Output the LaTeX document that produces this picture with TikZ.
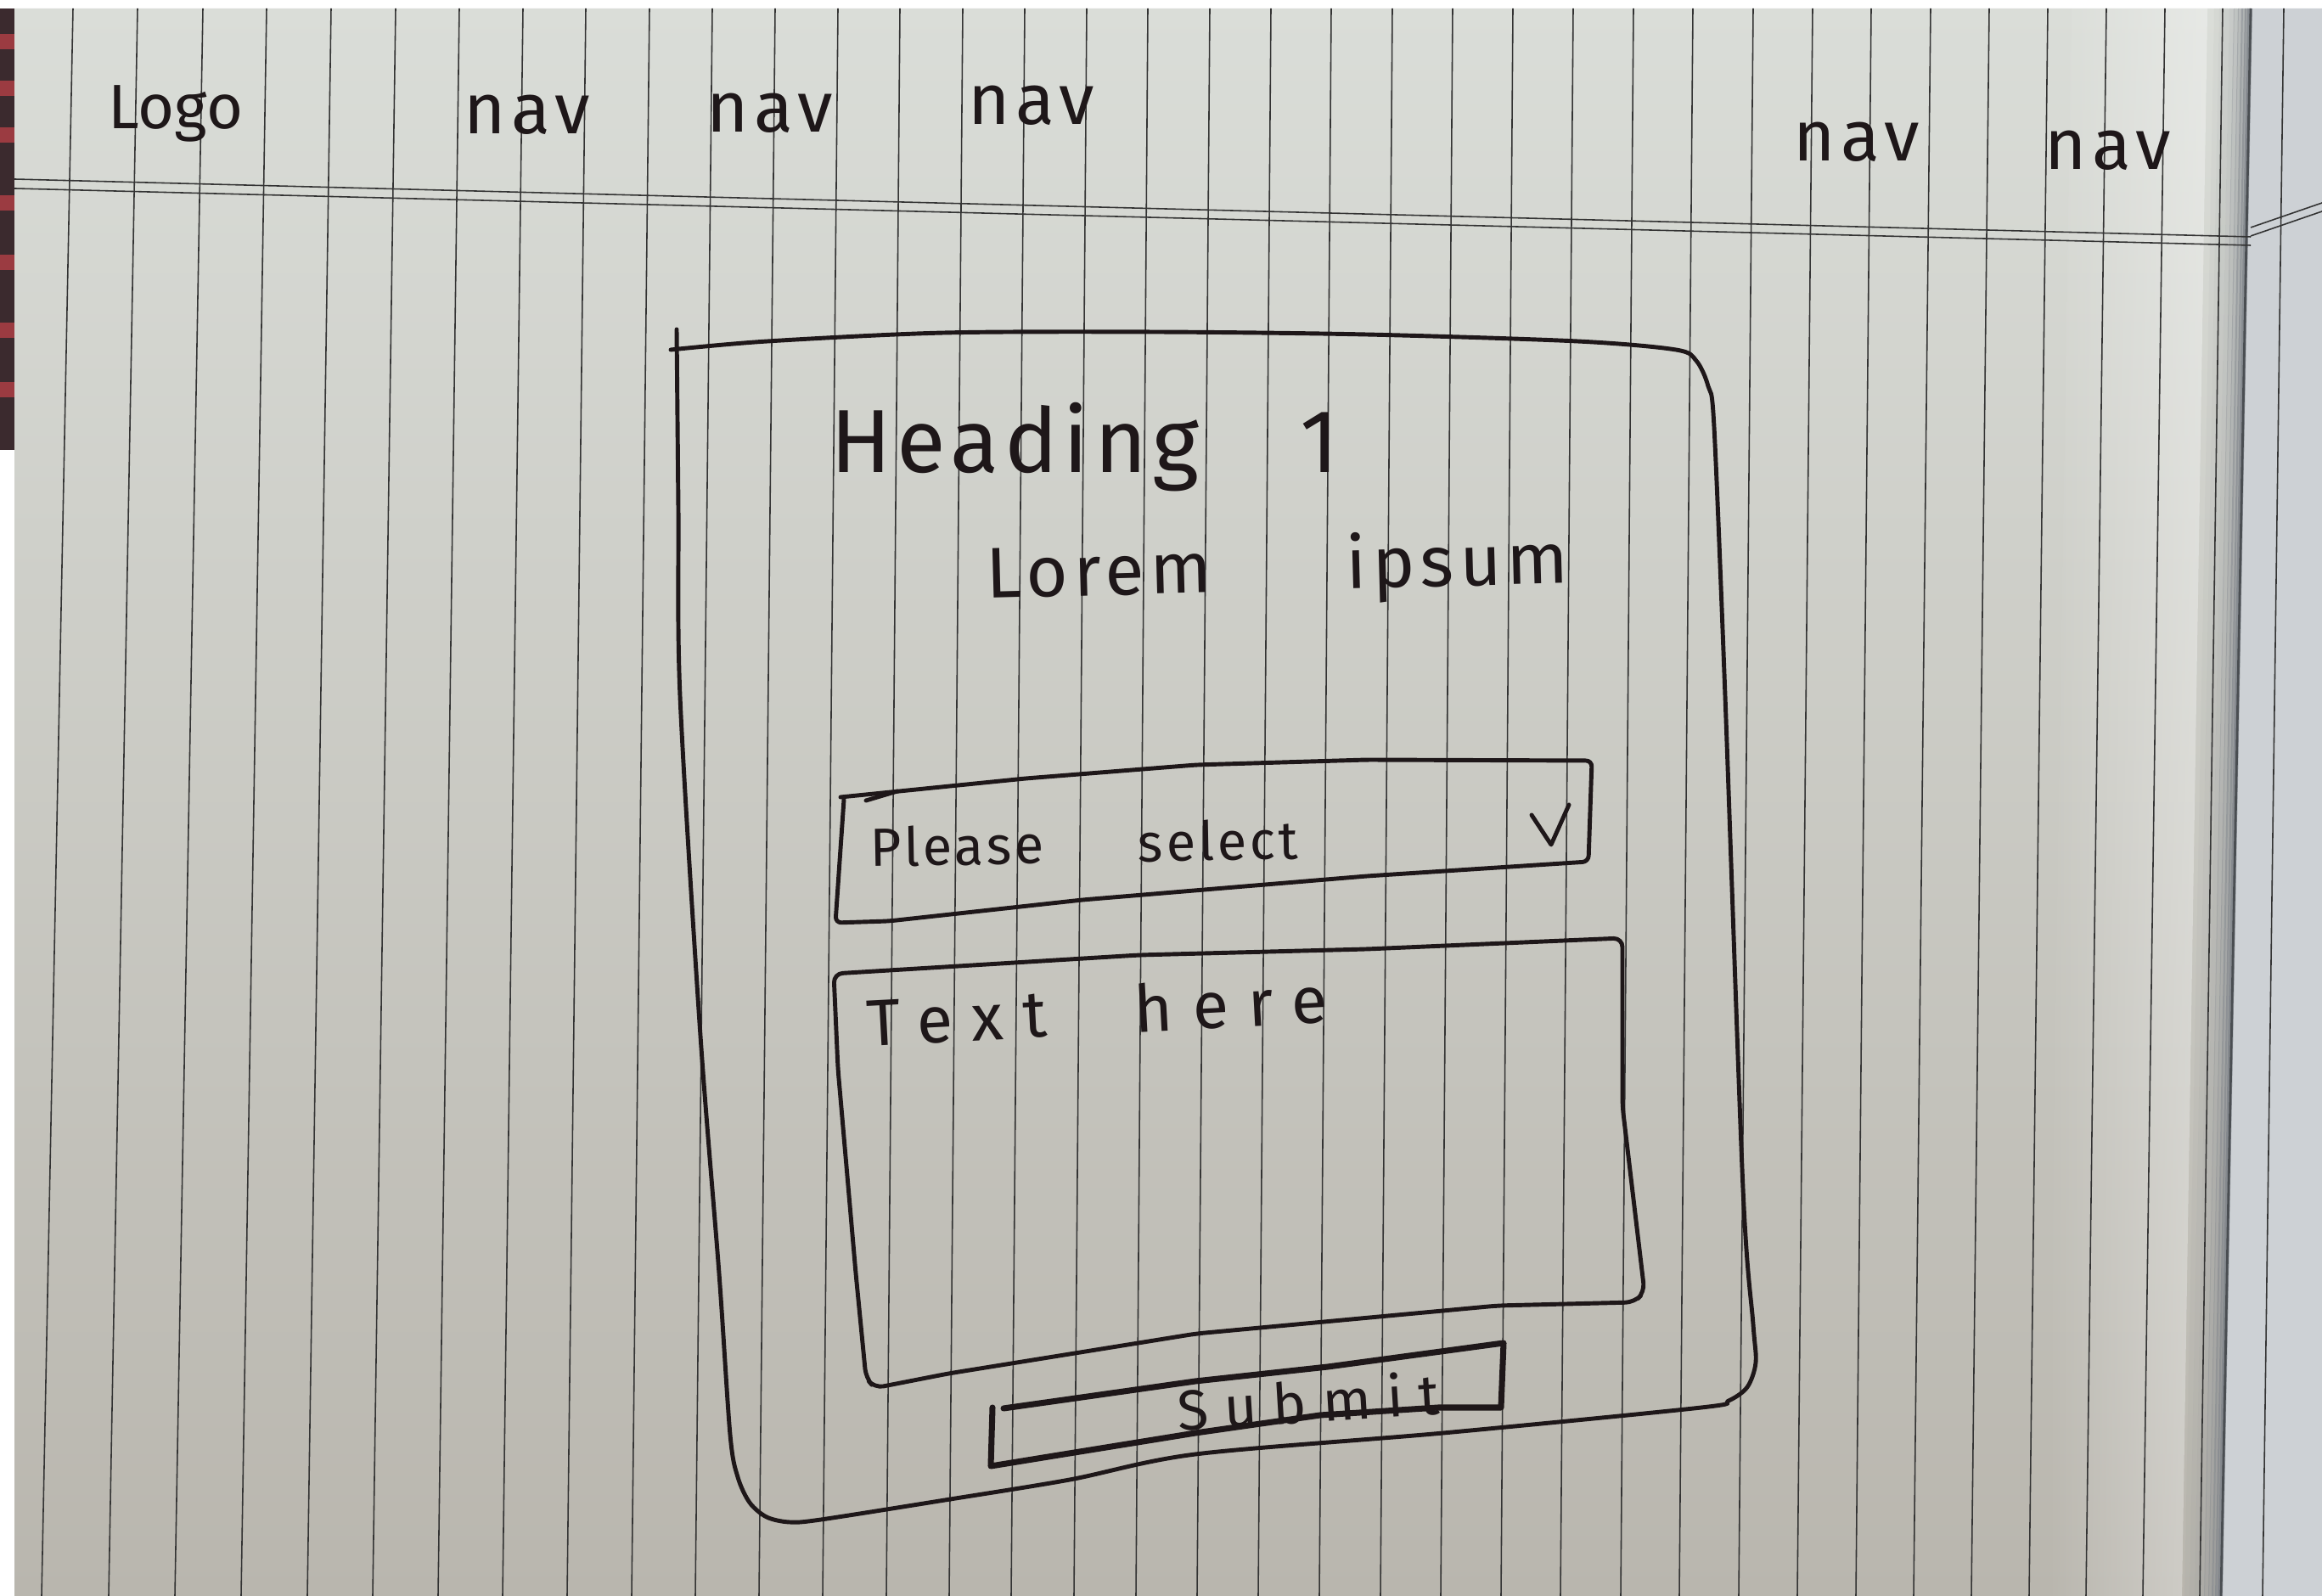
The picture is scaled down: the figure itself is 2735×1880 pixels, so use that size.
\documentclass[tikz,border=0pt]{standalone}
\usepackage{fontspec}
\setmainfont{Fira Sans}
\newfontfamily\handfont{Fira Sans}
\usetikzlibrary{fadings}

\definecolor{ink}{HTML}{1E1719}
\definecolor{rulec}{HTML}{333333}
\definecolor{papertop}{HTML}{DADDD8}
\definecolor{paperbot}{HTML}{B9B6AE}
\definecolor{nextpage}{HTML}{CDD1D5}
\definecolor{edgeshade}{HTML}{7C8188}
\definecolor{spine}{HTML}{3B2A2E}
\definecolor{spinered}{HTML}{9B3B41}

\tikzfading[name=fadeedge, left color=transparent!100, right color=transparent!0]

\tikzset{
  pen/.style={draw=ink, line width=1.4pt, line cap=round, line join=round},
  thickpen/.style={pen, line width=2pt},
  ruleline/.style={draw=rulec, line width=0.45pt},
  hand/.style 2 args={text=ink, inner sep=0pt,
    font=\handfont\addfontfeature{LetterSpace=#2}\fontsize{#1}{#1}\selectfont},
}

\begin{document}
\begin{tikzpicture}[x=0.01cm, y=-0.01cm]
    \useasboundingbox (0,0) rectangle (2735,1880);

    % Paper and the page beside it
    \fill[white] (0,0) rectangle (2735,1880);
    \shade[top color=papertop, bottom color=paperbot]
        (17,10) -- (2651,10) -- (2616,1880) -- (17,1880) -- cycle;
    \fill[nextpage] (2651,10) -- (2735,10) -- (2735,1880) -- (2616,1880) -- cycle;
    \fill[white, opacity=0.35, path fading=fadeedge]
        (2440,10) -- (2600,10) -- (2570,1880) -- (2410,1880) -- cycle;
    \foreach \d/\o in {40/0.05,34/0.1,28/0.15,22/0.2,17/0.28,12/0.36,8/0.45,4/0.55,1/0.7}
        \draw[edgeshade, line width=0.06cm, opacity=\o] (2651-\d,10) -- (2616-\d,1880);
    \draw[edgeshade!60!black, line width=0.8pt] (2651,10) -- (2616,1880);

    % Book spine on the left
    \fill[spine] (0,10) rectangle (17,530);
    \foreach \y in {40,95,150,230,300,380,450}
        \fill[spinered] (0,\y) rectangle (17,\y+18);

    % Ruled lines (top x / bottom x)
    \foreach \xt/\xb in {86/49,162/128,239/206,314/284,390/362,466/439,541/516,616/592,
        690/668,765/744,839/819,913/894,987/969,1060/1044,1134/1118,1207/1191,
        1280/1265,1352/1338,1425/1410,1497/1482,1568/1554,1640/1626,1711/1697,
        1782/1768,1853/1838,1924/1909,1994/1978,2065/2048,2135/2117,2204/2186,
        2274/2254,2343/2322,2412/2390,2481/2457,2550/2524,2618/2591,2690/2665}
        \draw[ruleline] (\xt,10) -- (\xb,1880);
    \draw[ruleline] (17,211) -- (2651,279);
    \draw[ruleline] (17,222) -- (2651,289);
    \draw[ruleline] (2651,268) -- (2735,239);
    \draw[ruleline] (2651,278) -- (2735,249);

    % Header row
    \node[hand={21}{0}] (logo) at (207,134) {Logo};
    \node[hand={24}{8}] (nav1) at (621,135) {nav};
    \node[hand={24}{8}] (nav2) at (907,133) {nav};
    \node[hand={24}{8}] (nav3) at (1215,124) {nav};
    \node[hand={24}{8}] (nav4) at (2187,167) {nav};
    \node[hand={24}{8}] (nav5) at (2483,177) {nav};

    % Card
    \draw[pen] plot[smooth, tension=0.5] coordinates {
        (790,412) (904,402) (1112,392) (1360,391) (1609,394) (1858,402)
        (1974,412) (1998,425) (2012,455) (2019,503) (2032,820) (2053,1400)
        (2065,1560) (2068,1605) (2058,1634) (2036,1650) (2004,1658)
        (1700,1688) (1408,1713) (1260,1743) (1113,1767) (967,1790)
        (930,1793) (903,1787) (883,1770) (869,1740) (860,1690) (847,1500)
        (825,1220) (801,820) (799,600) (797,388)};

    % Card texts
    \node[hand={30}{6}] (heading) at (1278,527) {Heading \hspace{0.85cm}1};
    \node[hand={24}{8}, rotate=1.5] (lorem) at (1505,672) {Lorem \hspace{1.3cm}ipsum};

    % Select field
    \draw[pen, rounded corners=2pt] (990,939) -- (1208,917) -- (1409,901) -- (1610,895)
        -- (1875,896) -- (1871,1015) -- (1610,1032) -- (1275,1060) -- (1047,1085)
        -- (984,1087) -- (994,942);
    \draw[pen] (1020,943) -- (1057,932);
    \node[hand={18}{6}, rotate=1] (select) at (1277,993) {Please \hspace{0.9cm}select};
    \draw[pen] (1804,960) -- (1827,995) -- (1848,948);

    % Text area
    \draw[pen, rounded corners=3pt] (982,1147) -- (1342,1125) -- (1610,1118) -- (1911,1105)
        -- (1911,1303) -- (1937,1522) -- (1925,1534) -- (1764,1538) -- (1409,1571)
        -- (1117,1618) -- (1030,1635) -- (1020,1623) -- (1008,1500) -- (987,1259)
        -- cycle;
    \node[hand={22}{30}, rotate=3] (textarea) at (1292,1190) {Text \hspace{0.6cm}here};

    % Submit button
    \draw[thickpen] (1169,1658) -- (1167,1727) -- (1247,1714) -- (1408,1688) -- (1555,1667)
        -- (1694,1658) -- (1768,1658) -- (1771,1582) -- (1564,1610) -- (1408,1627)
        -- (1260,1648) -- (1182,1659);
    \node[hand={19}{28}, rotate=3.5] (submit) at (1541,1650) {Submit};
\end{tikzpicture}
\end{document}
